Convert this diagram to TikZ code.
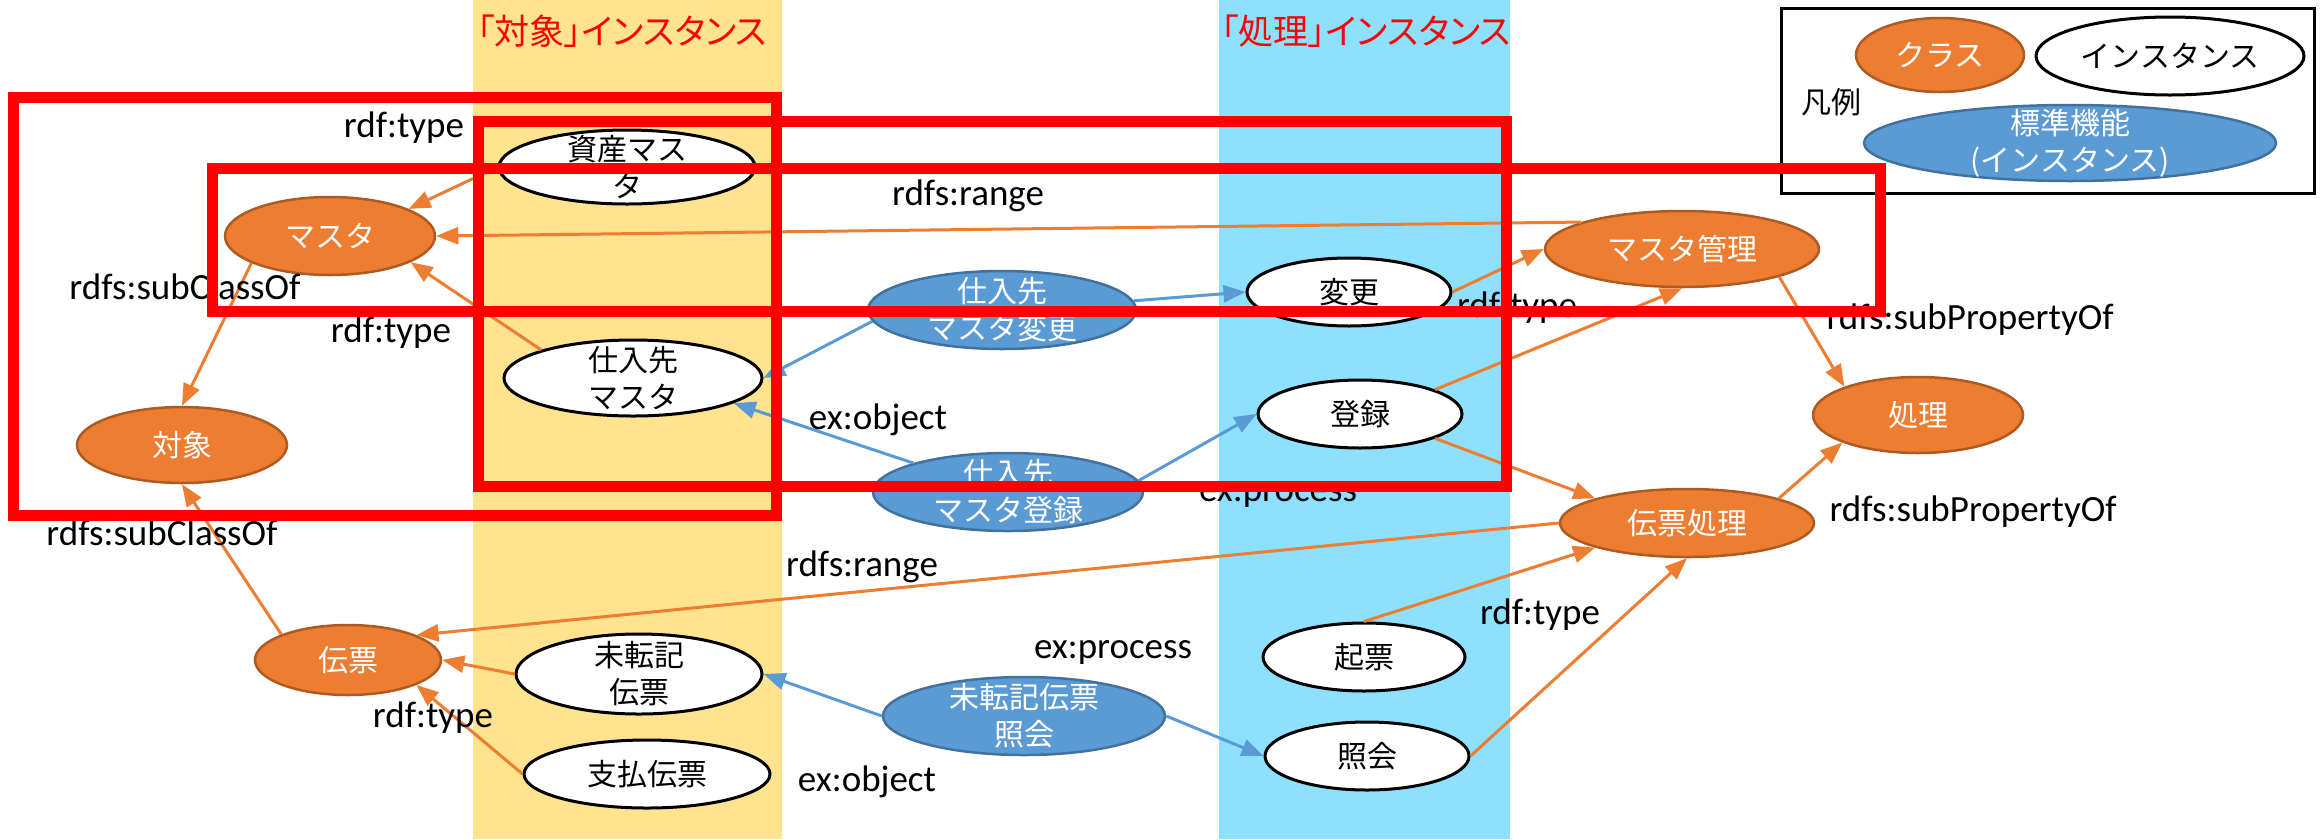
\documentclass[tikz,border=0pt]{standalone}
\usepackage{fontspec}
\setmainfont{Carlito}
\newfontfamily\jp{Noto Sans CJK JP}
\newfontfamily\jpp[RawFeature=+palt]{Noto Sans CJK JP}
\usetikzlibrary{shapes.geometric,arrows.meta}
\definecolor{orF}{HTML}{ED7D31}
\definecolor{orD}{HTML}{AE5A21}
\definecolor{blF}{HTML}{5B9BD5}
\definecolor{blD}{HTML}{41719C}
\definecolor{bandY}{HTML}{FFE38F}
\definecolor{bandB}{HTML}{8EE0FF}
\newcommand\lblfont{\fontsize{37}{44}\selectfont}
\newcommand\jpn{\jp\fontsize{30}{37}\selectfont}
\newcommand\jpt{\jpp\fontsize{35}{42}\selectfont}
\tikzset{
  cls/.style={ellipse,draw=orD,line width=2.5pt,fill=orF,inner sep=0pt},
  inst/.style={ellipse,draw=black,line width=3pt,fill=white,inner sep=0pt},
  std/.style={ellipse,draw=blD,line width=2.5pt,fill=blF,inner sep=0pt},
  wtxt/.style={text=white,font=\jpn,align=center,inner sep=0pt},
  btxt/.style={text=black,font=\jpn,align=center,inner sep=0pt},
  lbl/.style={font=\lblfont,text=black,inner sep=0pt},
  ttl/.style={font=\jpt,text=red,inner sep=0pt},
  oarr/.style={draw=orF,line width=3pt,-{Triangle[length=22pt,width=17pt]}},
  barr/.style={draw=blF,line width=3pt,-{Triangle[length=22pt,width=17pt]}},
  redbox/.style={draw=red,line width=11pt},
}
\begin{document}
\begin{tikzpicture}[x=1pt,y=-1pt]
\useasboundingbox (0,0) rectangle (2323,839);
\fill[bandY] (473,0) rectangle (782,839);
\fill[bandB] (1219,0) rectangle (1510,839);
\node[ttl] (t1) at (622,31) {「対象」インスタンス};
\node[ttl] (t2) at (1366,31) {「処理」インスタンス};

% nodes
\node[inst,minimum width=256pt,minimum height=74pt,label={[btxt]center:資産マス\\タ}] (shisan) at (627,167) {};
\node[cls,minimum width=210pt,minimum height=78pt,label={[wtxt]center:マスタ}] (masta) at (330,236) {};
\node[inst,minimum width=258pt,minimum height=76pt,label={[btxt]center:仕入先\\マスタ}] (shiire) at (633,378) {};
\node[cls,minimum width=210pt,minimum height=76pt,label={[wtxt]center:対象}] (taisho) at (182,445) {};
\node[cls,minimum width=186pt,minimum height=70pt,label={[wtxt]center:伝票}] (denpyo) at (348,660) {};
\node[inst,minimum width=246pt,minimum height=80pt,label={[btxt]center:未転記\\伝票}] (mitenki) at (639,674) {};
\node[inst,minimum width=246pt,minimum height=68pt,label={[btxt]center:支払伝票}] (shiharai) at (647,774) {};
\node[std,minimum width=268pt,minimum height=78pt,label={[wtxt]center:仕入先\\マスタ変更}] (stdhenko) at (1002,310) {};
\node[std,minimum width=270pt,minimum height=78pt,label={[wtxt]center:仕入先\\マスタ登録}] (stdtoroku) at (1008,492) {};
\node[std,minimum width=282pt,minimum height=78pt,label={[wtxt]center:未転記伝票\\照会}] (stdmitenki) at (1024,716) {};
\node[inst,minimum width=204pt,minimum height=68pt,label={[btxt]center:変更}] (henko) at (1349,292) {};
\node[inst,minimum width=204pt,minimum height=68pt,label={[btxt]center:登録}] (toroku) at (1360,414) {};
\node[inst,minimum width=202pt,minimum height=68pt,label={[btxt]center:起票}] (kihyo) at (1364,657) {};
\node[inst,minimum width=204pt,minimum height=68pt,label={[btxt]center:照会}] (shokai) at (1367,756) {};
\node[cls,minimum width=274pt,minimum height=76pt,label={[wtxt]center:マスタ管理}] (kanri) at (1682,249) {};
\node[cls,minimum width=210pt,minimum height=76pt,label={[wtxt]center:処理}] (shori) at (1918,415) {};
\node[cls,minimum width=254pt,minimum height=68pt,label={[wtxt]center:伝票処理}] (denshori) at (1687,523) {};

% legend
\node[draw=black,line width=3pt,minimum width=533pt,minimum height=185pt,inner sep=0pt] (legendbox) at (2047.5,100.5) {};
\node[cls,minimum width=168pt,minimum height=74pt,label={[wtxt]center:クラス}] (lgcls) at (1940,55) {};
\node[inst,minimum width=268pt,minimum height=78pt,label={[btxt]center:インスタンス}] (lginst) at (2170,56) {};
\node[std,minimum width=412pt,minimum height=76pt,label={[wtxt]center:標準機能\\(インスタンス)}] (lgstd) at (2070,143) {};
\node[btxt] (lgtitle) at (1831,102) {凡例};

% connectors
\draw[oarr] (shisan.west) -- (masta.19);
\draw[oarr] (shiire.163) -- (masta.-18);
\draw[oarr] (kanri.165) -- (masta.east);
\draw[oarr] (masta.199) -- (taisho.north);
\draw[oarr] (denpyo.159) -- (taisho.south);
\draw[oarr] (denshori.west) -- (denpyo.20);
\draw[oarr] (mitenki.west) -- (denpyo.east);
\draw[oarr] (shiharai.west) -- (denpyo.-20);
\draw[oarr] (kanri.-16) -- (shori.159);
\draw[oarr] (denshori.15) -- (shori.200);
\draw[oarr] (henko.east) -- (kanri.west);
\draw[oarr] (toroku.18) -- (kanri.south);
\draw[oarr] (toroku.-18) -- (denshori.165);
\draw[oarr] (kihyo.north) -- (denshori.195);
\draw[oarr] (shokai.east) -- (denshori.south);
\draw[barr] (stdhenko.4) -- (henko.west);
\draw[barr] (stdhenko.185) -- (shiire.east);
\draw[barr] (stdtoroku.163) -- (shiire.-14);
\draw[barr] (stdtoroku.5) -- (toroku.west);
\draw[barr] (stdmitenki.west) -- (mitenki.east);
\draw[barr] (stdmitenki.east) -- (shokai.west);

% edge labels
\node[lbl] (l1) at (404,128) {rdf:type};
\node[lbl] (l2) at (185,287) {rdfs:subClassOf};
\node[lbl] (l3) at (391,333) {rdf:type};
\node[lbl] (l4) at (162,533) {rdfs:subClassOf};
\node[lbl] (l5) at (433,718) {rdf:type};
\node[lbl] (l6) at (968,196) {rdfs:range};
\node[lbl] (l7) at (878,420) {ex:object};
\node[lbl] (l8) at (1278,495) {ex:process};
\node[lbl] (l9) at (862,567) {rdfs:range};
\node[lbl] (l10) at (1113,652) {ex:process};
\node[lbl] (l11) at (867,782) {ex:object};
\node[lbl] (l12) at (1517,308) {rdf:type};
\node[lbl] (l13) at (1540,615) {rdf:type};
\node[lbl] (l14) at (1970,320) {rdfs:subPropertyOf};
\node[lbl] (l15) at (1973,512) {rdfs:subPropertyOf};

% red highlight frames
\draw[redbox] (13,97) rectangle (776,515);
\draw[redbox] (478,121) rectangle (1506,486);
\draw[redbox] (212,168) rectangle (1880,311);
\end{tikzpicture}
\end{document}
